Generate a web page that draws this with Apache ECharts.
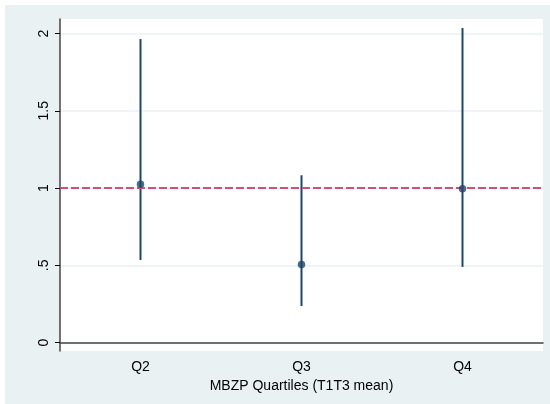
<!DOCTYPE html>
<html>
<head>
<meta charset="utf-8">
<script src="https://cdn.jsdelivr.net/npm/echarts@6/dist/echarts.min.js"></script>
<style>
html,body{margin:0;padding:0;background:#fff;}
#c{width:550px;height:404px;}
</style>
</head>
<body>
<div id="c"></div>
<script>
var categories = ['Q2', 'Q3', 'Q4'];
var estimates = [1.025, 0.505, 0.995];
var ciLow = [0.535, 0.237, 0.49];
var ciHigh = [1.964, 1.083, 2.036];
var yTicks = [0, 0.5, 1, 1.5, 2];
var refValue = 1;
var xTitle = 'MBZP Quartiles (T1T3 mean)';

var navy = '#1a476f';
var font = '"Liberation Sans", Arial, sans-serif';

var barData = categories.map(function (c, i) { return [i, ciLow[i], ciHigh[i]]; });
var pointData = categories.map(function (c, i) { return [i, estimates[i]]; });

var chart = echarts.init(document.getElementById('c'), null, {renderer: 'canvas'});
chart.setOption({
  backgroundColor: '#ffffff',
  animation: false,
  graphic: [{
    type: 'rect', z: -10, silent: true,
    shape: {x: 5, y: 5, width: 545, height: 399},
    style: {fill: '#eaf1f3'}
  }],
  grid: {
    left: 60, top: 19, right: 7, bottom: 53,
    show: true, backgroundColor: '#ffffff', borderWidth: 0
  },
  xAxis: {
    type: 'category',
    data: categories,
    boundaryGap: true,
    name: xTitle,
    nameLocation: 'middle',
    nameGap: 27,
    nameTextStyle: {fontFamily: font, fontSize: 14, color: '#000'},
    axisLine: {lineStyle: {color: '#444', width: 1.5}},
    axisTick: {alignWithLabel: true, length: 5, lineStyle: {color: '#000'}},
    axisLabel: {fontFamily: font, fontSize: 14, color: '#000', margin: 9},
    splitLine: {show: false}
  },
  yAxis: {
    type: 'value',
    min: -0.054,
    max: 2.094,
    axisLine: {show: true, lineStyle: {color: '#444', width: 1.5}},
    axisTick: {show: true, length: 5, customValues: yTicks, lineStyle: {color: '#000'}},
    axisLabel: {
      customValues: yTicks,
      rotate: 90,
      fontFamily: font, fontSize: 14, color: '#000', margin: 9,
      formatter: function (v) {
        var s = String(Math.round(v * 10) / 10);
        return s.replace(/^0\./, '.');
      }
    },
    splitLine: {show: true, lineStyle: {color: '#eaf2f3', width: 1.5}}
  },
  series: [
    {
      type: 'custom',
      data: barData,
      renderItem: function (params, api) {
        var x = api.value(0);
        var p1 = api.coord([x, api.value(1)]);
        var p2 = api.coord([x, api.value(2)]);
        return {
          type: 'line',
          shape: {x1: p1[0], y1: p1[1], x2: p2[0], y2: p2[1]},
          style: {stroke: navy, lineWidth: 2}
        };
      },
      encode: {x: 0, y: [1, 2]},
      z: 3
    },
    {
      type: 'scatter',
      data: pointData,
      symbol: 'circle',
      symbolSize: 7.5,
      itemStyle: {color: navy},
      z: 5,
      markLine: {
        silent: true,
        symbol: 'none',
        label: {show: false},
        lineStyle: {color: '#d64e74', type: [8, 3], width: 2},
        data: [{yAxis: refValue}]
      }
    }
  ]
});
</script>
</body>
</html>
